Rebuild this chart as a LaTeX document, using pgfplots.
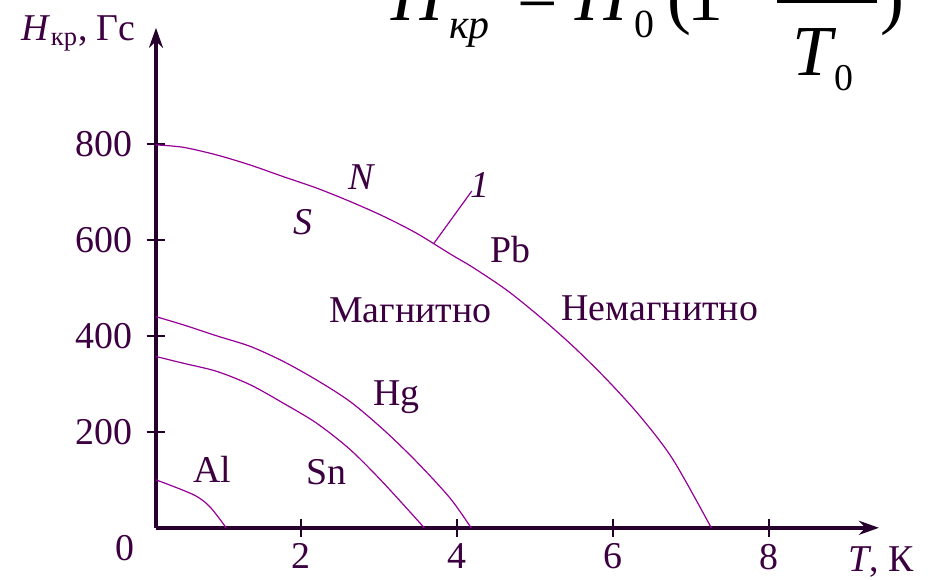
\documentclass[border=0pt]{standalone}
\usepackage{fontspec}
\setmainfont{Liberation Serif}
\usepackage{pgfplots}
\pgfplotsset{compat=1.18}
\usetikzlibrary{arrows.meta}
\definecolor{txt}{RGB}{60,0,65}
\definecolor{crv}{RGB}{150,0,150}
\definecolor{axl}{RGB}{40,0,45}
% piece of the formula at an offset from its baseline
\newcommand\fp[3]{\makebox[0pt][l]{\hspace{#1}\raisebox{#2}{#3}}}
\begin{document}
\begin{tikzpicture}
\begin{axis}[
  scale only axis, width=361.5bp, height=250bp,
  xmin=0.14, xmax=9.41, ymin=0, ymax=1042,
  axis x line=bottom, axis y line=left,
  axis line style={line width=2bp, color=axl, -{Stealth[length=10bp,width=7bp]}},
  xtick={2,4,6,8}, ytick={200,400,600,800},
  tick align=center, major tick length=9bp,
  tick style={line width=1bp, color=axl},
  ticklabel style={font=\fontsize{19}{21}\selectfont, text=txt},
  yticklabel style={xshift=-4bp},
  /pgf/number format/assume math mode=true,
  clip=false,
]
% Pb
\addplot[crv, line width=0.6bp, smooth] coordinates {
  (0.14,798) (0.49,793) (0.92,777) (1.35,756) (1.77,732) (2.20,708) (2.63,680)
  (3.06,649) (3.48,614) (3.91,571) (4.21,542) (4.64,495) (5.06,440) (5.49,378)
  (5.92,309) (6.35,232) (6.77,142) (7.26,0)
};
% Hg
\addplot[crv, line width=0.6bp, smooth] coordinates {
  (0.14,440) (0.49,423) (0.92,400) (1.35,378) (1.77,347) (2.20,308) (2.63,263)
  (3.06,204) (3.48,138) (3.91,62) (4.18,0)
};
% Sn
\addplot[crv, line width=0.6bp, smooth] coordinates {
  (0.14,357) (0.49,343) (0.92,326) (1.35,298) (1.77,260) (2.20,218) (2.63,163)
  (3.06,93) (3.58,0)
};
% Al
\addplot[crv, line width=0.6bp, smooth] coordinates {
  (0.14,100) (0.62,69) (0.83,44) (1.04,0)
};
\draw[crv, line width=0.6bp] (axis cs:3.70,592) -- (axis cs:4.19,702);

\begin{scope}[every node/.style={text=txt, font=\fontsize{19}{21}\selectfont}]
\node at (axis cs:2.78,731) {\textit{N}};
\node at (axis cs:2.03,637) {\textit{S}};
\node at (axis cs:4.30,715) {\textit{1}};
\node at (axis cs:4.68,579) {Pb};
\node at (axis cs:3.40,454) {Магнитно};
\node at (axis cs:6.60,458) {Немагнитно};
\node at (axis cs:3.22,273) {Hg};
\node at (axis cs:0.86,121) {Al};
\node at (axis cs:2.32,117) {Sn};
\node at (axis cs:-0.26,-42) {0};
\node at (axis cs:-0.85,1030) {\textit{H}\textsubscript{кр}, Гс};
\node at (axis cs:9.44,-71) {\textit{T}, К};
\end{scope}
% formula, cut by the top edge
\node[anchor=base west, inner sep=0pt, font=\fontsize{36}{40}\selectfont]
  at (axis cs:3.14,1058) {%
  \fp{0bp}{0bp}{\textit{H}}%
  \fp{29bp}{-9bp}{\fontsize{21}{21}\selectfont\textit{кр}}%
  \fp{63bp}{0bp}{=}%
  \fp{92bp}{0bp}{\textit{H}}%
  \fp{121.5bp}{-8.5bp}{\fontsize{20}{20}\selectfont 0}%
  \fp{138bp}{0bp}{(}%
  \fp{148bp}{0bp}{1}%
  \fp{166.5bp}{0bp}{−}%
  \fp{206bp}{20bp}{\textit{T}\textsuperscript{2}}%
  \fp{193bp}{8.5bp}{\rule{50bp}{1.5bp}}%
  \fp{200.5bp}{-27.5bp}{\textit{T}}%
  \fp{221.5bp}{-35bp}{\fontsize{19}{19}\selectfont 0}%
  \fp{244.5bp}{0bp}{)}%
  \hspace{255bp}};
\coordinate (bl) at (axis cs:-1.86,-108.3);
\coordinate (tr) at (axis cs:10.09,1100);
\end{axis}
\pgfresetboundingbox
\useasboundingbox (bl) rectangle (tr);
\end{tikzpicture}
\end{document}
